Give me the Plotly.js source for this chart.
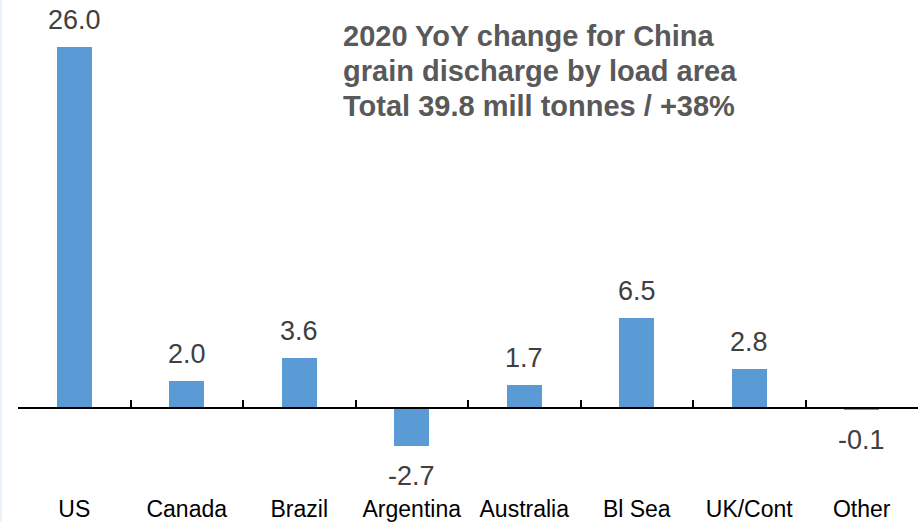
<!DOCTYPE html>
<html>
<head>
<meta charset="utf-8">
<script src="https://cdn.plot.ly/plotly-3.0.1.min.js"></script>
<style>
  html, body { margin: 0; padding: 0; background: #ffffff; }
  #wrap { position: relative; width: 921px; height: 522px; }
  #strip { position: absolute; left: 0; top: 0; width: 2px; height: 522px; background: #eaf2fc; z-index: 5; }
  #chart { width: 921px; height: 522px; }
</style>
</head>
<body>
<div id="wrap"><div id="strip"></div><div id="chart"></div></div>
<script>
const categories = ["US", "Canada", "Brazil", "Argentina", "Australia", "Bl Sea", "UK/Cont", "Other"];
const values = [26.0, 2.0, 3.6, -2.7, 1.7, 6.5, 2.8, -0.1];
const valueLabels = ["26.0", "2.0", "3.6", "-2.7", "1.7", "6.5", "2.8", "-0.1"];
const titleLines = ["2020 YoY change for China", "grain discharge by load area", "Total 39.8 mill tonnes / +38%"];

const FONT = "Liberation Sans, Arial, sans-serif";
const H = 522, T = 0, B = 30;
const plotH = H - T - B;
const yMin = -6.02, yMax = 29.37;
const zeroPos = (0 - yMin) / (yMax - yMin);

const trace = {
  type: "bar",
  x: categories,
  y: values,
  width: 0.31,
  marker: { color: "#5b9bd5", line: { width: 0 } },
  hoverinfo: "x+y"
};

const annotations = values.map((v, i) => ({
  x: categories[i],
  y: v,
  xref: "x",
  yref: "y",
  text: valueLabels[i],
  showarrow: false,
  xanchor: "center",
  yanchor: v >= 0 ? "bottom" : "top",
  yshift: v >= 0 ? 10 : -13,
  font: { family: FONT, size: 27, color: "#404040" }
}));

const titleCenters = [36, 71, 106];
titleLines.forEach((t, i) => {
  annotations.push({
    xref: "paper", yref: "paper",
    x: (341 - 18) / 900,
    y: 1 - titleCenters[i] / plotH,
    xanchor: "left", yanchor: "middle",
    text: "<b>" + t + "</b>",
    showarrow: false,
    align: "left",
    font: { family: FONT, size: 29, color: "#595959" }
  });
});

const layout = {
  width: 921,
  height: 522,
  margin: { l: 18, r: 3, t: T, b: B, pad: 0 },
  paper_bgcolor: "#ffffff",
  plot_bgcolor: "#ffffff",
  showlegend: false,
  bargap: 0,
  xaxis: {
    type: "category",
    categoryorder: "array",
    categoryarray: categories,
    range: [-0.5, categories.length - 0.5],
    anchor: "free",
    position: zeroPos + 1 / plotH,
    side: "bottom",
    showline: true,
    linecolor: "#000000",
    linewidth: 1.5,
    showgrid: false,
    zeroline: false,
    ticks: "inside",
    tickson: "boundaries",
    ticklen: 7,
    tickwidth: 2,
    tickcolor: "#000000",
    ticklabelstandoff: 81,
    tickfont: { family: FONT, size: 23, color: "#000000" },
    fixedrange: true
  },
  yaxis: {
    range: [yMin, yMax],
    visible: false,
    showgrid: false,
    zeroline: false,
    fixedrange: true
  },
  annotations: annotations
};

Plotly.newPlot("chart", [trace], layout, { displayModeBar: false, staticPlot: true });
</script>
</body>
</html>
